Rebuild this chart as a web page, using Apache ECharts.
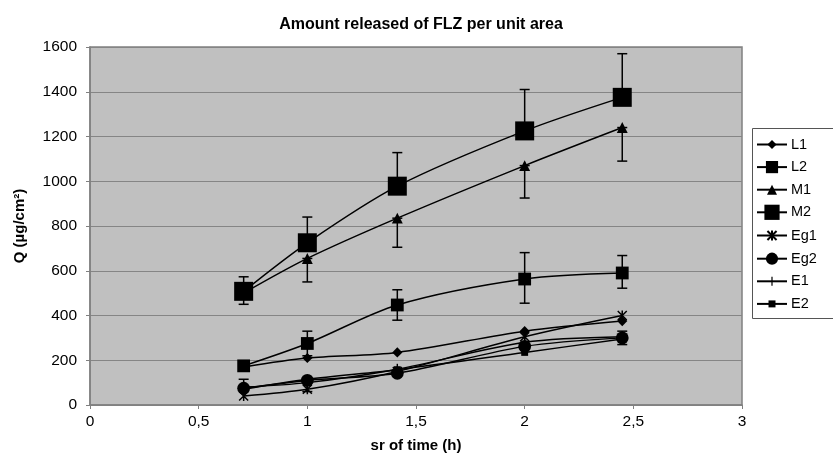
<!DOCTYPE html>
<html>
<head>
<meta charset="utf-8">
<script src="https://cdn.jsdelivr.net/npm/echarts@6/dist/echarts.min.js"></script>
<style>
  html, body { margin: 0; padding: 0; background: #fff; }
  #chart-container { width: 833px; height: 461px; }
</style>
</head>
<body>
<div id="chart-container"></div>
<script>
// square root of time (h) : 0.5, 1, 2, 4, 6 h
var sqrtTime = [0.707, 1, 1.414, 2, 2.449];

var seriesNames = ["L1", "L2", "M1", "M2", "Eg1", "Eg2", "E1", "E2"];
var L1 = [170, 210, 235, 330, 375];
var L2 = [175, 275, 447, 563, 590];
var M1 = [500, 655, 835, 1070, 1240];
var M2 = [508, 725, 978, 1225, 1375];
var Eg1 = [40, 70, 150, 305, 400];
var Eg2 = [75, 110, 142, 262, 300];
var E1 = [80, 100, 160, 280, 305];
var E2 = [70, 115, 158, 235, 295];

// error bars: [minus, plus]
var errL2Lo = [0, 55, 68, 108, 68];
var errL2Hi = [0, 55, 68, 118, 78];
var errM1Lo = [50, 105, 130, 145, 150];
var errM2Hi = [65, 115, 150, 185, 195];
var errEg2Lo = [0, 50, 0, 0, 30];
var errEg2Hi = [40, 0, 0, 0, 30];

var dom = document.getElementById("chart-container");
var myChart = echarts.init(dom, null, { renderer: "canvas" });

// marker paths in a 100x100 box (padding points keep legend sizes apart)
var PAD = "M0,0M100,100";
var sym = {
  diamond: "path://" + PAD + "M50,20L80,50L50,80L20,50Z",
  square: "path://" + PAD + "M10,10L90,10L90,90L10,90Z",
  triangle: "path://" + PAD + "M50,17L83,83L17,83Z",
  star: "path://" + PAD + "M20,20L80,80M80,20L20,80M50,17L50,83",
  circle: "path://" + PAD + "M10,50A40,40 0 1 1 90,50A40,40 0 1 1 10,50Z",
  tick: "path://" + PAD + "M46,20L54,20L54,80L46,80Z",
  small: "path://" + PAD + "M27,27L73,27L73,73L27,73Z",
};

function pts(vals) {
  return vals.map(function (v, i) { return [sqrtTime[i], v]; });
}
function errData(vals, lo, hi) {
  var out = [];
  vals.forEach(function (v, i) {
    var a = lo ? lo[i] : 0;
    var b = hi ? hi[i] : 0;
    if (a > 0 || b > 0) out.push([sqrtTime[i], v - a, v + b]);
  });
  return out;
}

function lineSeries(name, vals, symbol, size, extra) {
  var s = {
    name: name,
    type: "line",
    data: pts(vals),
    smooth: 0.3,
    symbol: symbol,
    symbolSize: size,
    showAllSymbol: true,
    lineStyle: { color: "#000", width: 1.5 },
    itemStyle: { color: "#000", borderColor: "#000", borderWidth: 0 },
    z: 3,
  };
  if (extra) Object.assign(s.itemStyle, extra);
  return s;
}

function errSeries(vals, lo, hi) {
  return {
    type: "custom",
    silent: true,
    z: 2,
    data: errData(vals, lo, hi),
    renderItem: function (params, api) {
      var x = api.value(0);
      var a = api.coord([x, api.value(1)]);
      var b = api.coord([x, api.value(2)]);
      var c = 5;
      var st = { stroke: "#000", lineWidth: 1.5 };
      return {
        type: "group",
        children: [
          { type: "line", shape: { x1: a[0], y1: a[1], x2: b[0], y2: b[1] }, style: st },
          { type: "line", shape: { x1: a[0] - c, y1: a[1], x2: a[0] + c, y2: a[1] }, style: st },
          { type: "line", shape: { x1: b[0] - c, y1: b[1], x2: b[0] + c, y2: b[1] }, style: st },
        ],
      };
    },
  };
}

var axisFont = { color: "#000", fontSize: 15.5, fontFamily: "Liberation Sans" };
var nameFont = { fontFamily: "Liberation Sans", fontWeight: "bold", fontSize: 15, color: "#000" };

var option = {
  animation: false,
  backgroundColor: "#fff",
  title: {
    text: "Amount released of FLZ per unit area",
    left: 416,
    textAlign: "center",
    top: 12,
    textStyle: { fontFamily: "Liberation Sans", fontWeight: "bold", fontSize: 16, color: "#000" },
  },
  // legend frame runs past the right edge, as in the original
  graphic: [
    {
      type: "rect",
      shape: { x: 752.5, y: 128.5, width: 120, height: 190 },
      style: { fill: "#fff", stroke: "#555", lineWidth: 1 },
      z: 0,
    },
  ],
  grid: {
    left: 90,
    right: 91,
    top: 47,
    bottom: 56,
    show: true,
    backgroundColor: "#c0c0c0",
    borderColor: "#808080",
    borderWidth: 1.5,
  },
  legend: {
    data: seriesNames,
    orient: "vertical",
    left: 752,
    top: 128,
    itemGap: 3.6,
    itemWidth: 30,
    itemHeight: 19,
    padding: [7, 4, 7, 4],
    z: 5,
    textStyle: { color: "#000", fontSize: 14.5, fontFamily: "Liberation Sans", padding: [0, 0, 0, -1], height: 19, lineHeight: 19 },
  },
  xAxis: {
    type: "value",
    min: 0,
    max: 3,
    interval: 0.5,
    name: "sr of time (h)",
    nameLocation: "middle",
    nameGap: 33,
    nameTextStyle: nameFont,
    axisLine: { lineStyle: { color: "#808080", width: 1.5 } },
    axisTick: { show: true, length: 4, lineStyle: { color: "#808080" } },
    splitLine: { show: false },
    axisLabel: Object.assign({ margin: 9, formatter: function (v) { return String(v).replace(".", ","); } }, axisFont),
  },
  yAxis: {
    type: "value",
    min: 0,
    max: 1600,
    interval: 200,
    name: "Q (µg/cm²)",
    nameLocation: "middle",
    nameGap: 63,
    nameTextStyle: nameFont,
    axisLine: { show: true, lineStyle: { color: "#808080", width: 1.5 } },
    axisTick: { show: true, length: 4, lineStyle: { color: "#808080" } },
    splitLine: { lineStyle: { color: "#858585", width: 1.2 } },
    axisLabel: Object.assign({ margin: 13, formatter: function (v) { return String(v); } }, axisFont),
  },
  series: [
    errSeries(L2, errL2Lo, errL2Hi),
    errSeries(M1, errM1Lo, null),
    errSeries(M2, null, errM2Hi),
    errSeries(Eg2, errEg2Lo, errEg2Hi),
    lineSeries("L1", L1, sym.diamond, 17),
    lineSeries("L2", L2, sym.square, 16),
    lineSeries("M1", M1, sym.triangle, 16.5),
    lineSeries("M2", M2, "rect", 19),
    lineSeries("Eg1", Eg1, sym.star, 15, { color: "none", borderWidth: 1.5 }),
    lineSeries("Eg2", Eg2, sym.circle, 16),
    lineSeries("E1", E1, sym.tick, 18),
    lineSeries("E2", E2, sym.small, 15),
  ],
};

myChart.setOption(option);
window.addEventListener("resize", myChart.resize);
</script>
</body>
</html>
